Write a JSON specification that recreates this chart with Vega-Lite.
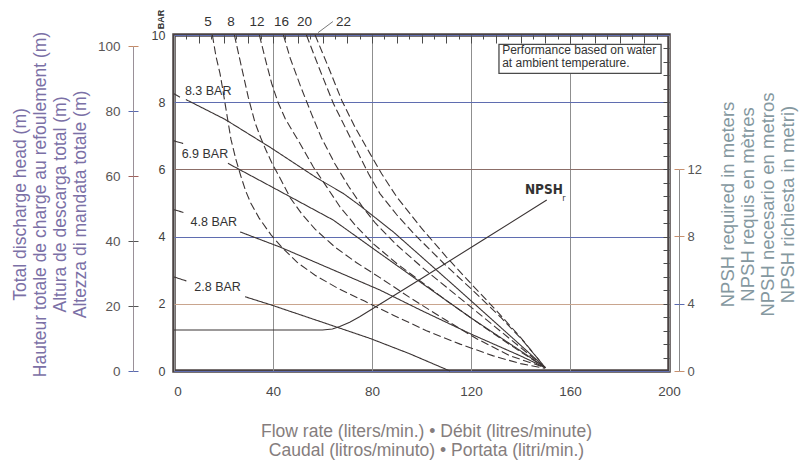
{
  "$schema": "https://vega.github.io/schema/vega-lite/v6.json",
  "width": 495,
  "height": 336,
  "autosize": "none",
  "padding": {"left": 174, "top": 35, "right": 133, "bottom": 92},
  "background": "white",
  "config": {
    "font": "Liberation Sans",
    "view": {"stroke": "#4a4242", "strokeWidth": 3.5},
    "axis": {
      "labelFont": "Liberation Sans",
      "titleFont": "Liberation Sans",
      "titleFontWeight": "normal",
      "domain": false,
      "ticks": false,
      "grid": false,
      "labels": true,
      "title": null
    },
    "line": {"stroke": "#3b3434", "strokeWidth": 1.1},
    "text": {"font": "Liberation Sans", "fill": "#333"}
  },
  "datasets": {
    "curves": [
      {"kind": "air", "seg": "a5", "flow": 15.5, "bar": 10},
      {"kind": "air", "seg": "a5", "flow": 17, "bar": 9.35},
      {"kind": "air", "seg": "a5", "flow": 18.6, "bar": 8.85},
      {"kind": "air", "seg": "a5", "flow": 20, "bar": 8.25},
      {"kind": "air", "seg": "a5", "flow": 21.3, "bar": 7.66},
      {"kind": "air", "seg": "a5", "flow": 23, "bar": 6.9},
      {"kind": "air", "seg": "a5", "flow": 25, "bar": 6.3},
      {"kind": "air", "seg": "a5", "flow": 27, "bar": 5.8},
      {"kind": "air", "seg": "a5", "flow": 29, "bar": 5.35},
      {"kind": "air", "seg": "a5", "flow": 31, "bar": 5.0},
      {"kind": "air", "seg": "a5", "flow": 34.4, "bar": 4.55},
      {"kind": "air", "seg": "a5", "flow": 39.2, "bar": 4.05},
      {"kind": "air", "seg": "a5", "flow": 44, "bar": 3.65},
      {"kind": "air", "seg": "a5", "flow": 50, "bar": 3.22},
      {"kind": "air", "seg": "a5", "flow": 57, "bar": 2.85},
      {"kind": "air", "seg": "a5", "flow": 66, "bar": 2.47},
      {"kind": "air", "seg": "a5", "flow": 77, "bar": 2.08},
      {"kind": "air", "seg": "a5", "flow": 88.6, "bar": 1.66},
      {"kind": "air", "seg": "a5", "flow": 102, "bar": 1.2},
      {"kind": "air", "seg": "a5", "flow": 115.6, "bar": 0.8},
      {"kind": "air", "seg": "a5", "flow": 129, "bar": 0.45},
      {"kind": "air", "seg": "a5", "flow": 140, "bar": 0.22},
      {"kind": "air", "seg": "a5", "flow": 150, "bar": 0.08},
      {"kind": "air", "seg": "a8", "flow": 24.4, "bar": 10},
      {"kind": "air", "seg": "a8", "flow": 27.3, "bar": 9.04},
      {"kind": "air", "seg": "a8", "flow": 30, "bar": 8.15},
      {"kind": "air", "seg": "a8", "flow": 32.7, "bar": 7.4},
      {"kind": "air", "seg": "a8", "flow": 35, "bar": 6.95},
      {"kind": "air", "seg": "a8", "flow": 37, "bar": 6.6},
      {"kind": "air", "seg": "a8", "flow": 39.5, "bar": 6.2},
      {"kind": "air", "seg": "a8", "flow": 43.5, "bar": 5.65},
      {"kind": "air", "seg": "a8", "flow": 47, "bar": 5.15},
      {"kind": "air", "seg": "a8", "flow": 51.5, "bar": 4.69},
      {"kind": "air", "seg": "a8", "flow": 57, "bar": 4.22},
      {"kind": "air", "seg": "a8", "flow": 65, "bar": 3.69},
      {"kind": "air", "seg": "a8", "flow": 73.8, "bar": 3.22},
      {"kind": "air", "seg": "a8", "flow": 83.2, "bar": 2.78},
      {"kind": "air", "seg": "a8", "flow": 95.4, "bar": 2.18},
      {"kind": "air", "seg": "a8", "flow": 108.8, "bar": 1.56},
      {"kind": "air", "seg": "a8", "flow": 122.3, "bar": 0.96},
      {"kind": "air", "seg": "a8", "flow": 135.8, "bar": 0.45},
      {"kind": "air", "seg": "a8", "flow": 150, "bar": 0.1},
      {"kind": "air", "seg": "a12", "flow": 34.5, "bar": 10},
      {"kind": "air", "seg": "a12", "flow": 37, "bar": 9.25},
      {"kind": "air", "seg": "a12", "flow": 39.5, "bar": 8.55},
      {"kind": "air", "seg": "a12", "flow": 42, "bar": 8.0},
      {"kind": "air", "seg": "a12", "flow": 45, "bar": 7.5},
      {"kind": "air", "seg": "a12", "flow": 50.9, "bar": 6.77},
      {"kind": "air", "seg": "a12", "flow": 56.3, "bar": 6.07},
      {"kind": "air", "seg": "a12", "flow": 61.7, "bar": 5.48},
      {"kind": "air", "seg": "a12", "flow": 67.1, "bar": 4.88},
      {"kind": "air", "seg": "a12", "flow": 73.8, "bar": 4.29},
      {"kind": "air", "seg": "a12", "flow": 80.5, "bar": 3.79},
      {"kind": "air", "seg": "a12", "flow": 90, "bar": 3.2},
      {"kind": "air", "seg": "a12", "flow": 100, "bar": 2.65},
      {"kind": "air", "seg": "a12", "flow": 110, "bar": 2.1},
      {"kind": "air", "seg": "a12", "flow": 120, "bar": 1.58},
      {"kind": "air", "seg": "a12", "flow": 130, "bar": 1.07},
      {"kind": "air", "seg": "a12", "flow": 140, "bar": 0.57},
      {"kind": "air", "seg": "a12", "flow": 150, "bar": 0.1},
      {"kind": "air", "seg": "a16", "flow": 44.2, "bar": 10},
      {"kind": "air", "seg": "a16", "flow": 47, "bar": 9.3},
      {"kind": "air", "seg": "a16", "flow": 51, "bar": 8.5},
      {"kind": "air", "seg": "a16", "flow": 55.5, "bar": 7.66},
      {"kind": "air", "seg": "a16", "flow": 59.5, "bar": 6.95},
      {"kind": "air", "seg": "a16", "flow": 65, "bar": 6.17},
      {"kind": "air", "seg": "a16", "flow": 70.5, "bar": 5.5},
      {"kind": "air", "seg": "a16", "flow": 76, "bar": 4.9},
      {"kind": "air", "seg": "a16", "flow": 81.5, "bar": 4.39},
      {"kind": "air", "seg": "a16", "flow": 90, "bar": 3.75},
      {"kind": "air", "seg": "a16", "flow": 100, "bar": 3.1},
      {"kind": "air", "seg": "a16", "flow": 110, "bar": 2.5},
      {"kind": "air", "seg": "a16", "flow": 120, "bar": 1.9},
      {"kind": "air", "seg": "a16", "flow": 130, "bar": 1.3},
      {"kind": "air", "seg": "a16", "flow": 140, "bar": 0.7},
      {"kind": "air", "seg": "a16", "flow": 150, "bar": 0.1},
      {"kind": "air", "seg": "a20", "flow": 53.5, "bar": 10},
      {"kind": "air", "seg": "a20", "flow": 59, "bar": 8.95},
      {"kind": "air", "seg": "a20", "flow": 64.4, "bar": 7.96},
      {"kind": "air", "seg": "a20", "flow": 69.8, "bar": 7.16},
      {"kind": "air", "seg": "a20", "flow": 74.5, "bar": 6.47},
      {"kind": "air", "seg": "a20", "flow": 78.6, "bar": 5.87},
      {"kind": "air", "seg": "a20", "flow": 83.2, "bar": 5.28},
      {"kind": "air", "seg": "a20", "flow": 90, "bar": 4.65},
      {"kind": "air", "seg": "a20", "flow": 97, "bar": 4.08},
      {"kind": "air", "seg": "a20", "flow": 109, "bar": 3.2},
      {"kind": "air", "seg": "a20", "flow": 120, "bar": 2.45},
      {"kind": "air", "seg": "a20", "flow": 132, "bar": 1.6},
      {"kind": "air", "seg": "a20", "flow": 141, "bar": 0.9},
      {"kind": "air", "seg": "a20", "flow": 150, "bar": 0.1},
      {"kind": "air", "seg": "a22", "flow": 57, "bar": 10},
      {"kind": "air", "seg": "a22", "flow": 62.4, "bar": 9.04},
      {"kind": "air", "seg": "a22", "flow": 67.8, "bar": 8.05},
      {"kind": "air", "seg": "a22", "flow": 73.1, "bar": 7.26},
      {"kind": "air", "seg": "a22", "flow": 79.2, "bar": 6.47},
      {"kind": "air", "seg": "a22", "flow": 83.9, "bar": 5.87},
      {"kind": "air", "seg": "a22", "flow": 90, "bar": 5.18},
      {"kind": "air", "seg": "a22", "flow": 100, "bar": 4.25},
      {"kind": "air", "seg": "a22", "flow": 110, "bar": 3.4},
      {"kind": "air", "seg": "a22", "flow": 120, "bar": 2.6},
      {"kind": "air", "seg": "a22", "flow": 130, "bar": 1.82},
      {"kind": "air", "seg": "a22", "flow": 140, "bar": 1.0},
      {"kind": "air", "seg": "a22", "flow": 150, "bar": 0.1},
      {"kind": "pressure", "seg": "p83a", "flow": 0, "bar": 8.25},
      {"kind": "pressure", "seg": "p83a", "flow": 2.4, "bar": 8.15},
      {"kind": "pressure", "seg": "p83b", "flow": 4.8, "bar": 8.08},
      {"kind": "pressure", "seg": "p83b", "flow": 20.6, "bar": 7.49},
      {"kind": "pressure", "seg": "p83b", "flow": 38.8, "bar": 6.66},
      {"kind": "pressure", "seg": "p83b", "flow": 57.8, "bar": 5.74},
      {"kind": "pressure", "seg": "p83b", "flow": 68.3, "bar": 5.29},
      {"kind": "pressure", "seg": "p83b", "flow": 75, "bar": 4.93},
      {"kind": "pressure", "seg": "p83b", "flow": 88.6, "bar": 4.14},
      {"kind": "pressure", "seg": "p83b", "flow": 100, "bar": 3.4},
      {"kind": "pressure", "seg": "p83b", "flow": 115, "bar": 2.42},
      {"kind": "pressure", "seg": "p83b", "flow": 130, "bar": 1.43},
      {"kind": "pressure", "seg": "p83b", "flow": 140, "bar": 0.77},
      {"kind": "pressure", "seg": "p83b", "flow": 150, "bar": 0.1},
      {"kind": "pressure", "seg": "p69a", "flow": 0, "bar": 6.85},
      {"kind": "pressure", "seg": "p69a", "flow": 3.7, "bar": 6.77},
      {"kind": "pressure", "seg": "p69b", "flow": 21.8, "bar": 6.18},
      {"kind": "pressure", "seg": "p69b", "flow": 39.5, "bar": 5.48},
      {"kind": "pressure", "seg": "p69b", "flow": 64.4, "bar": 4.49},
      {"kind": "pressure", "seg": "p69b", "flow": 83.2, "bar": 3.5},
      {"kind": "pressure", "seg": "p69b", "flow": 100, "bar": 2.62},
      {"kind": "pressure", "seg": "p69b", "flow": 120, "bar": 1.58},
      {"kind": "pressure", "seg": "p69b", "flow": 140, "bar": 0.6},
      {"kind": "pressure", "seg": "p69b", "flow": 150, "bar": 0.1},
      {"kind": "pressure", "seg": "p48a", "flow": 0, "bar": 4.8},
      {"kind": "pressure", "seg": "p48a", "flow": 3.8, "bar": 4.72},
      {"kind": "pressure", "seg": "p48b", "flow": 26.7, "bar": 4.14},
      {"kind": "pressure", "seg": "p48b", "flow": 42.8, "bar": 3.69},
      {"kind": "pressure", "seg": "p48b", "flow": 63, "bar": 3.05},
      {"kind": "pressure", "seg": "p48b", "flow": 83.2, "bar": 2.41},
      {"kind": "pressure", "seg": "p48b", "flow": 100, "bar": 1.8},
      {"kind": "pressure", "seg": "p48b", "flow": 120, "bar": 1.1},
      {"kind": "pressure", "seg": "p48b", "flow": 140, "bar": 0.45},
      {"kind": "pressure", "seg": "p48b", "flow": 150, "bar": 0.1},
      {"kind": "pressure", "seg": "p28a", "flow": 0, "bar": 2.8},
      {"kind": "pressure", "seg": "p28a", "flow": 5, "bar": 2.68},
      {"kind": "pressure", "seg": "p28b", "flow": 28.7, "bar": 2.21},
      {"kind": "pressure", "seg": "p28b", "flow": 39.5, "bar": 1.96},
      {"kind": "pressure", "seg": "p28b", "flow": 60, "bar": 1.45},
      {"kind": "pressure", "seg": "p28b", "flow": 79.2, "bar": 0.97},
      {"kind": "pressure", "seg": "p28b", "flow": 95, "bar": 0.52},
      {"kind": "pressure", "seg": "p28b", "flow": 111.5, "bar": 0}
    ],
    "npsh": [
      {"flow": 0, "npsh_m": 2.44},
      {"flow": 60, "npsh_m": 2.44},
      {"flow": 64, "npsh_m": 2.5},
      {"flow": 67, "npsh_m": 2.64},
      {"flow": 71, "npsh_m": 2.9},
      {"flow": 75, "npsh_m": 3.22},
      {"flow": 100, "npsh_m": 5.5},
      {"flow": 125, "npsh_m": 7.8},
      {"flow": 150.6, "npsh_m": 10.16}
    ],
    "pressureLabels": [
      {"label": "8.3 BAR", "flow": 4.4, "bar": 8.33},
      {"label": "6.9 BAR", "flow": 3.1, "bar": 6.45},
      {"label": "4.8 BAR", "flow": 6.7, "bar": 4.44},
      {"label": "2.8 BAR", "flow": 8.2, "bar": 2.49}
    ],
    "airLabels": [
      {"label": "5", "flow": 13.7},
      {"label": "8", "flow": 23},
      {"label": "12", "flow": 33.5},
      {"label": "16", "flow": 43.4},
      {"label": "20", "flow": 52.7},
      {"label": "22", "flow": 68.5}
    ],
    "headAxis": [{"head_m": 0}, {"head_m": 100}],
    "single": [{}]
  },
  "resolve": {
    "scale": {"y": "independent"},
    "axis": {"x": "independent", "y": "independent"}
  },
  "layer": [
    {
      "description": "Pressure and air consumption curves, main axes",
      "data": {"name": "curves"},
      "mark": {"type": "line"},
      "encoding": {
        "x": {
          "field": "flow",
          "type": "quantitative",
          "scale": {"domain": [0, 200], "nice": false},
          "axis": {
            "values": [0, 40, 80, 120, 160, 200],
            "grid": true,
            "gridColor": "#8f8f8f",
            "gridWidth": 1,
            "labelFlush": false,
            "labelOffset": {"condition": {"test": "datum.value == 0", "value": 3.5}, "value": 0},
            "labelFontSize": 13.5,
            "labelColor": "#4a4a4a",
            "labelPadding": 13,
            "title": [
              "Flow rate (liters/min.) • Débit (litres/minute)",
              "Caudal (litros/minuto) • Portata (litri/min.)"
            ],
            "titleFontSize": 17.5,
            "titleColor": "#857d7d",
            "titleLineHeight": 19.5,
            "titleX": 252,
            "titleY": 60,
            "titleAlign": "center",
            "titleBaseline": "middle"
          }
        },
        "y": {
          "field": "bar",
          "type": "quantitative",
          "scale": {"domain": [0, 10], "nice": false},
          "axis": {
            "values": [0, 2, 4, 6, 8, 10],
            "grid": true,
            "gridWidth": 1.1,
            "gridColor": {
              "condition": [
                {"test": "datum.value == 2", "value": "#c9a58e"},
                {"test": "datum.value == 6", "value": "#8c6e68"}
              ],
              "value": "#5f6db0"
            },
            "labelFontSize": 12.5,
            "labelColor": "#3f3f3f",
            "labelPadding": 9,
            "title": "BAR",
            "titleFontSize": 9,
            "titleFontWeight": "bold",
            "titleColor": "#333",
            "titleAngle": 270,
            "titleX": -14,
            "titleY": -16,
            "titleAlign": "center",
            "titleBaseline": "middle"
          }
        },
        "detail": {"field": "seg"},
        "strokeDash": {
          "field": "kind",
          "type": "nominal",
          "scale": {"domain": ["air", "pressure"], "range": [[8, 3.5], [1, 0]]},
          "legend": null
        }
      }
    },
    {
      "description": "Pressure labels; inner tick marks",
      "data": {"name": "pressureLabels"},
      "mark": {"type": "text", "align": "left", "baseline": "middle", "fontSize": 12.5},
      "encoding": {
        "x": {
          "field": "flow",
          "type": "quantitative",
          "scale": {"domain": [0, 200], "nice": false},
          "axis": {
            "values": [10, 20, 30, 40, 50, 60, 70, 80, 90, 100, 110, 120, 130, 140, 150, 160, 170, 180, 190],
            "ticks": true,
            "tickSize": -8,
            "tickColor": "#4a4a4a",
            "labels": false
          }
        },
        "y": {
          "field": "bar",
          "type": "quantitative",
          "scale": {"domain": [0, 10], "nice": false},
          "axis": {
            "values": [0.4, 0.8, 1.2, 1.6, 2, 2.4, 2.8, 3.2, 3.6, 4, 4.4, 4.8, 5.2, 5.6, 6, 6.4, 6.8, 7.2, 7.6, 8, 8.4, 8.8, 9.2, 9.6],
            "ticks": true,
            "tickSize": -6,
            "tickColor": "#4a4a4a",
            "labels": false
          }
        },
        "text": {"field": "label"}
      }
    },
    {
      "description": "Air consumption labels above the frame",
      "data": {"name": "airLabels"},
      "mark": {"type": "text", "align": "center", "baseline": "middle", "fontSize": 13.5},
      "encoding": {
        "x": {
          "field": "flow",
          "type": "quantitative",
          "scale": {"domain": [0, 200], "nice": false},
          "axis": {
            "values": [5, 15, 25, 35, 45, 55, 65, 75, 85, 95, 105, 115, 125, 135, 145, 155, 165, 175, 185, 195],
            "ticks": true,
            "tickSize": -4,
            "tickColor": "#4a4a4a",
            "labels": false
          }
        },
        "y": {"datum": 10.38, "type": "quantitative", "scale": {"domain": [0, 10], "nice": false}, "axis": null},
        "text": {"field": "label"}
      }
    },
    {
      "description": "Leader for the 22 label",
      "data": {"name": "single"},
      "mark": {"type": "rule", "stroke": "#555", "strokeWidth": 0.8},
      "encoding": {
        "x": {"datum": 58.2, "type": "quantitative", "scale": {"domain": [0, 200], "nice": false}, "axis": null},
        "x2": {"datum": 64.2},
        "y": {"datum": 10.07, "type": "quantitative", "scale": {"domain": [0, 10], "nice": false}, "axis": null},
        "y2": {"datum": 10.4}
      }
    },
    {
      "description": "Head in metres axis",
      "data": {"name": "headAxis"},
      "mark": {"type": "point", "opacity": 0},
      "encoding": {
        "y": {
          "field": "head_m",
          "type": "quantitative",
          "scale": {"domain": [0, 100], "range": [336, 11], "nice": false},
          "axis": {
            "orient": "left",
            "offset": 41,
            "values": [0, 20, 40, 60, 80, 100],
            "domain": true,
            "domainColor": "#9a9098",
            "domainWidth": 1,
            "ticks": true,
            "tickSize": 5,
            "tickColor": {
              "condition": [
                {"test": "datum.value == 100", "value": "#c58a66"},
                {"test": "datum.value == 80 || datum.value == 0", "value": "#5a6ab0"},
                {"test": "datum.value == 60", "value": "#a0605a"}
              ],
              "value": "#555"
            },
            "labelFontSize": 13.5,
            "labelColor": "#5a5656",
            "labelPadding": 8,
            "title": [
              "Total discharge head (m)",
              "Hauteur totale de charge au refoulement (m)",
              "Altura de descarga total (m)",
              "Altezza di mandata totale (m)"
            ],
            "titleFontSize": 17.5,
            "titleColor": "#7b70a6",
            "titleAngle": 270,
            "titleLineHeight": 20,
            "titleX": -113,
            "titleY": 169,
            "titleAlign": "center",
            "titleBaseline": "middle"
          }
        }
      }
    },
    {
      "description": "Head in metres axis, inner half of ticks",
      "data": {"name": "headAxis"},
      "mark": {"type": "point", "opacity": 0},
      "encoding": {
        "y": {
          "field": "head_m",
          "type": "quantitative",
          "scale": {"domain": [0, 100], "range": [336, 11], "nice": false},
          "axis": {
            "orient": "left",
            "offset": 41,
            "values": [0, 20, 40, 60, 80, 100],
            "ticks": true,
            "tickSize": -5,
            "tickColor": {
              "condition": [
                {"test": "datum.value == 100", "value": "#c58a66"},
                {"test": "datum.value == 80 || datum.value == 0", "value": "#5a6ab0"},
                {"test": "datum.value == 60", "value": "#a0605a"}
              ],
              "value": "#555"
            },
            "labels": false
          }
        }
      }
    },
    {
      "description": "NPSH required",
      "data": {"name": "npsh"},
      "mark": {"type": "line"},
      "encoding": {
        "x": {"field": "flow", "type": "quantitative", "scale": {"domain": [0, 200], "nice": false}, "axis": null},
        "y": {
          "field": "npsh_m",
          "type": "quantitative",
          "scale": {"domain": [0, 12], "range": [336, 134.1], "nice": false},
          "axis": {
            "orient": "right",
            "offset": 10,
            "values": [0, 4, 8, 12],
            "domain": true,
            "domainColor": "#8a8a8a",
            "domainWidth": 1,
            "ticks": true,
            "tickSize": 5,
            "tickColor": {
              "condition": [{"test": "datum.value == 4", "value": "#5a6ab0"}],
              "value": "#c8906e"
            },
            "labelFontSize": 13,
            "labelColor": "#555",
            "labelPadding": 3,
            "title": [
              "NPSH required in meters",
              "NPSH requis en mètres",
              "NPSH necesario en metros",
              "NPSH richiesta in metri)"
            ],
            "titleFontSize": 18.5,
            "titleColor": "#8598a0",
            "titleAngle": 270,
            "titleLineHeight": 20.3,
            "titleX": 48,
            "titleY": 169,
            "titleAlign": "center",
            "titleBaseline": "middle"
          }
        }
      }
    },
    {
      "description": "NPSH label, inner half of right ticks",
      "data": {"name": "single"},
      "mark": {
        "type": "text",
        "align": "left",
        "baseline": "middle",
        "font": "Liberation Sans Narrow, DejaVu Sans Condensed, Liberation Sans",
        "fontWeight": "bold",
        "fontSize": 13.5
      },
      "encoding": {
        "x": {"datum": 141.8, "type": "quantitative", "scale": {"domain": [0, 200], "nice": false}, "axis": null},
        "y": {
          "datum": 10.76,
          "type": "quantitative",
          "scale": {"domain": [0, 12], "range": [336, 134.1], "nice": false},
          "axis": {
            "orient": "right",
            "offset": 10,
            "values": [0, 4, 8, 12],
            "ticks": true,
            "tickSize": -5,
            "tickColor": {
              "condition": [{"test": "datum.value == 4", "value": "#5a6ab0"}],
              "value": "#c8906e"
            },
            "labels": false
          }
        },
        "text": {"value": "NPSH"}
      }
    },
    {
      "description": "NPSH subscript r",
      "data": {"name": "single"},
      "mark": {"type": "text", "align": "left", "baseline": "middle", "font": "Liberation Sans Narrow, DejaVu Sans Condensed, Liberation Sans", "fontSize": 9},
      "encoding": {
        "x": {"datum": 156.9, "type": "quantitative", "scale": {"domain": [0, 200], "nice": false}, "axis": null},
        "y": {"datum": 10.3, "type": "quantitative", "scale": {"domain": [0, 12], "range": [336, 134.1], "nice": false}, "axis": null},
        "text": {"value": "r"}
      }
    },
    {
      "description": "Note box",
      "data": {"name": "single"},
      "mark": {"type": "rect", "fill": "white", "stroke": "#4a4a4a", "strokeWidth": 1.3},
      "encoding": {
        "x": {"datum": 131.3, "type": "quantitative", "scale": {"domain": [0, 200], "nice": false}, "axis": null},
        "x2": {"datum": 196.8},
        "y": {"datum": 9.72, "type": "quantitative", "scale": {"domain": [0, 10], "nice": false}, "axis": null},
        "y2": {"datum": 8.86}
      }
    },
    {
      "description": "Note text",
      "data": {"name": "single"},
      "mark": {"type": "text", "align": "left", "baseline": "alphabetic", "fontSize": 12, "lineHeight": 13.5, "fill": "#333"},
      "encoding": {
        "x": {"datum": 132.6, "type": "quantitative", "scale": {"domain": [0, 200], "nice": false}, "axis": null},
        "y": {"datum": 9.44, "type": "quantitative", "scale": {"domain": [0, 10], "nice": false}, "axis": null},
        "text": {"value": ["Performance based on water", "at ambient temperature."]}
      }
    }
  ]
}
